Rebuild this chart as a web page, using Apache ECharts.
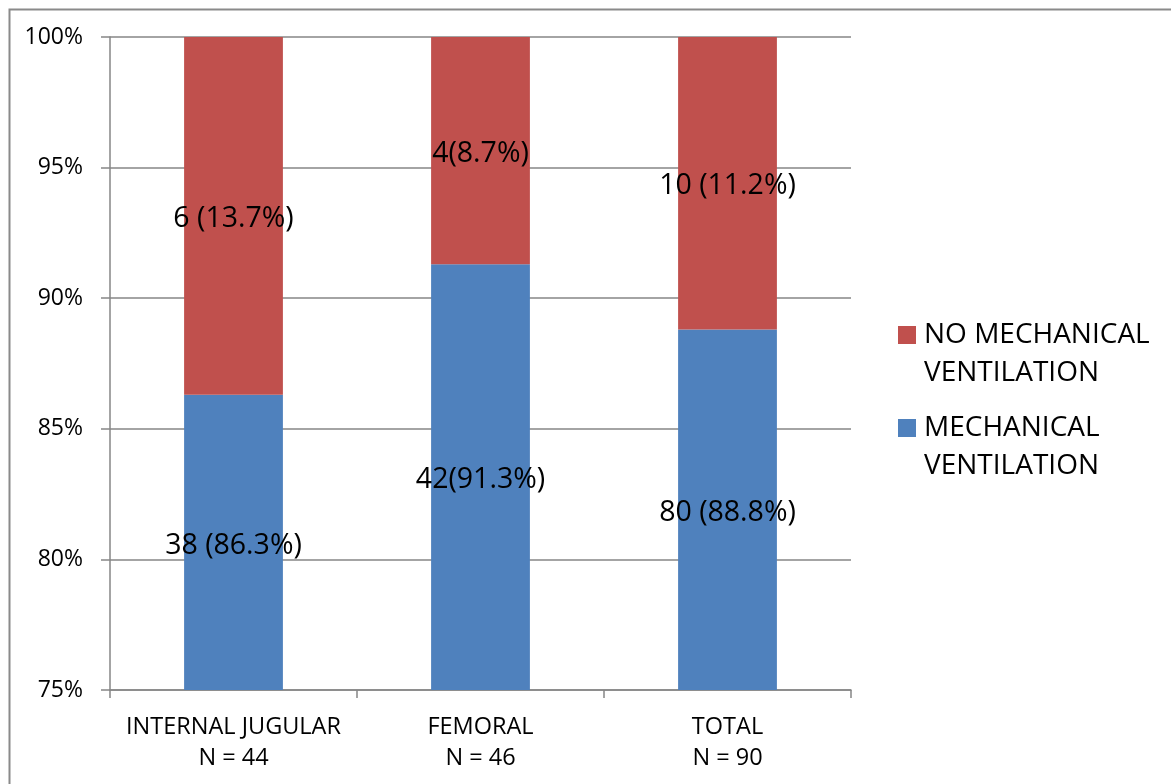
<!DOCTYPE html>
<html>
<head>
<meta charset="utf-8">
<script src="https://cdn.jsdelivr.net/npm/echarts@6/dist/echarts.min.js"></script>
<style>
  html, body { margin: 0; padding: 0; background: #fff; }
  #chart { width: 1171px; height: 784px; }
</style>
</head>
<body>
<div id="chart"></div>
<script>
// Catheter site groups and their sample sizes
const categories = ['INTERNAL JUGULAR', 'FEMORAL', 'TOTAL'];
const groupSizes = [44, 46, 90];

// Share of patients (%) with / without mechanical ventilation
const ventPct = [86.3, 91.3, 88.8];
const noVentPct = [13.7, 8.7, 11.2];

// Patient counts shown beside each percentage
const ventCount = [38, 42, 80];
const noVentCount = [6, 4, 10];
const ventSep = [' ', '', ' '];
const noVentSep = [' ', '', ' '];

// Y axis tick range (%)
const yMin = 75;
const yMax = 100;
const yStep = 5;

const FONT = '"Open Sans", "Noto Sans", sans-serif';
const AXIS_GRAY = '#868686';

const chart = echarts.init(document.getElementById('chart'), null, { renderer: 'canvas' });

const fmtLabel = (counts, seps) => (p) =>
  counts[p.dataIndex] + seps[p.dataIndex] + '(' + p.value.toFixed(1) + '%)';

// Legend names wrap onto two lines; a leading empty line keeps the
// swatch level with the first line of text.
const legendText = {
  'NO MECHANICAL VENTILATION': '\nNO MECHANICAL\nVENTILATION',
  'MECHANICAL VENTILATION': '\nMECHANICAL\nVENTILATION'
};

chart.setOption({
  animation: false,
  backgroundColor: '#fff',
  graphic: [{
    type: 'rect',
    left: 7, top: 7,
    shape: { width: 1250, height: 850 },
    style: { fill: 'none', stroke: '#8a8a8a', lineWidth: 2 },
    silent: true,
    z: -1
  }],
  grid: { left: 110, right: 320, top: 37, bottom: 94, containLabel: false },
  legend: {
    orient: 'vertical',
    left: 898,
    top: 278,
    padding: 0,
    itemGap: -21,
    itemWidth: 18,
    itemHeight: 18,
    icon: 'rect',
    data: ['NO MECHANICAL VENTILATION', 'MECHANICAL VENTILATION'],
    formatter: (name) => legendText[name],
    textStyle: {
      fontFamily: FONT, fontSize: 28, color: '#000',
      lineHeight: 38, padding: [0, 0, 0, 3]
    }
  },
  xAxis: {
    type: 'category',
    data: categories.map((c, i) => c + '\nN = ' + groupSizes[i]),
    axisLine: { show: true, lineStyle: { color: AXIS_GRAY, width: 1.5 } },
    axisTick: { show: true, length: 8, alignWithLabel: false, lineStyle: { color: AXIS_GRAY, width: 1.5 } },
    axisLabel: { fontFamily: FONT, fontSize: 23.5, color: '#000', lineHeight: 31, margin: 22, interval: 0 },
    splitLine: { show: false }
  },
  yAxis: {
    type: 'value',
    min: yMin, max: yMax, interval: yStep,
    axisLine: { show: true, lineStyle: { color: AXIS_GRAY, width: 1.5 } },
    axisTick: { show: true, length: 9, lineStyle: { color: AXIS_GRAY, width: 1.5 } },
    axisLabel: { fontFamily: FONT, fontSize: 23, color: '#000', margin: 27, formatter: '{value}%' },
    splitLine: { show: true, lineStyle: { color: AXIS_GRAY, width: 1.5 } }
  },
  series: [
    {
      name: 'MECHANICAL VENTILATION',
      type: 'bar',
      stack: 'share',
      barWidth: '40%',
      data: ventPct,
      itemStyle: { color: '#4F81BD' },
      label: {
        show: true, position: 'inside', offset: [0, 3],
        fontFamily: FONT, fontSize: 28.5, color: '#000',
        formatter: fmtLabel(ventCount, ventSep)
      }
    },
    {
      name: 'NO MECHANICAL VENTILATION',
      type: 'bar',
      stack: 'share',
      barWidth: '40%',
      data: noVentPct,
      itemStyle: { color: '#C0504D' },
      label: {
        show: true, position: 'inside', offset: [0, 3],
        fontFamily: FONT, fontSize: 28.5, color: '#000',
        formatter: fmtLabel(noVentCount, noVentSep)
      }
    }
  ]
});
</script>
</body>
</html>
